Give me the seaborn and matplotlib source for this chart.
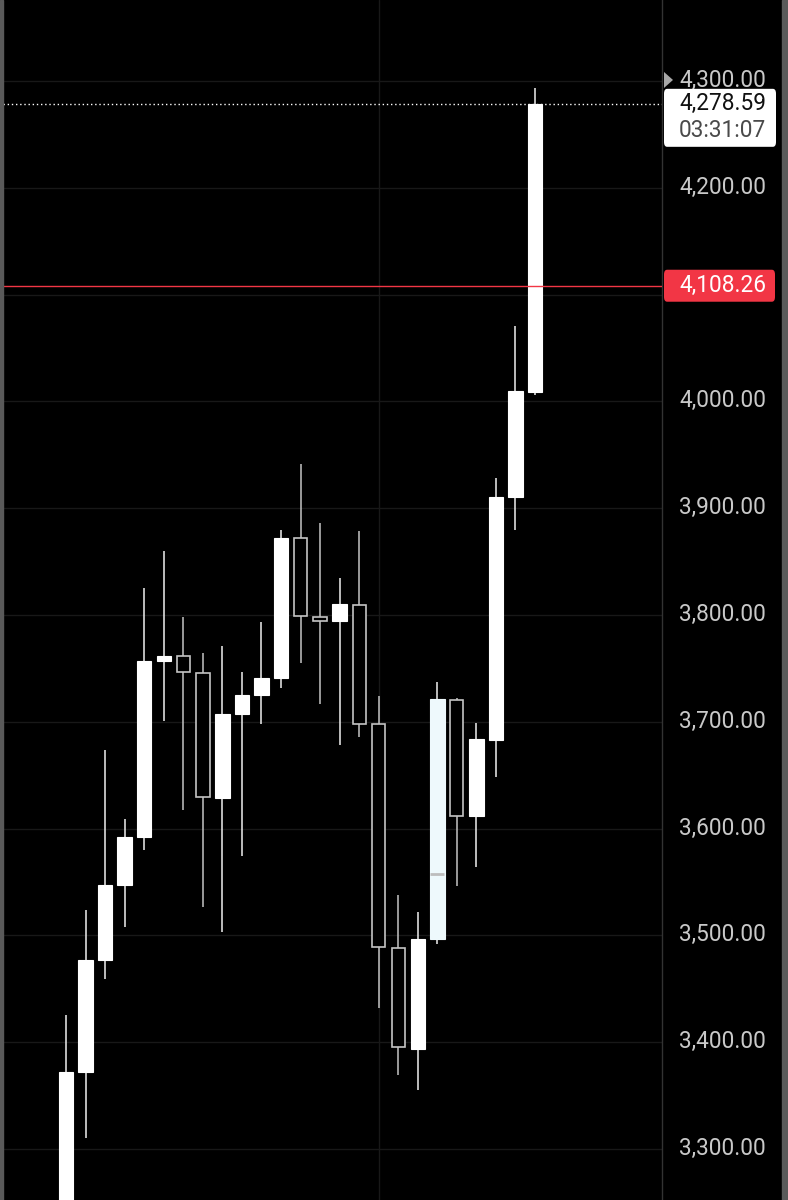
import matplotlib
matplotlib.use("Agg")
import numpy as np
import pandas as pd
import matplotlib.pyplot as plt
import matplotlib.ticker as mticker
import matplotlib.transforms as mtrans
from matplotlib.patches import FancyBboxPatch, Polygon
import seaborn as sns

# daily OHLC
opens = [3220, 3372, 3477, 3547, 3592, 3757, 3762, 3746, 3629, 3707, 3725, 3741, 3872,
         3798, 3794, 3809, 3698, 3488, 3394, 3497, 3720, 3612, 3683, 3910, 4009]
highs = [3425, 3524, 3674, 3609, 3825, 3860, 3798, 3764, 3771, 3747, 3793, 3880, 3941,
         3886, 3835, 3879, 3724, 3538, 3522, 3737, 3722, 3699, 3928, 4071, 4293]
lows = [3200, 3310, 3459, 3508, 3580, 3701, 3617, 3527, 3503, 3574, 3698, 3732, 3755,
        3717, 3678, 3686, 3432, 3369, 3355, 3492, 3546, 3564, 3648, 3880, 4006]
closes = [3372, 3477, 3547, 3592, 3757, 3762, 3747, 3630, 3707, 3725, 3741, 3872, 3799,
          3794, 3810, 3698, 3489, 3395, 3497, 3721, 3612, 3684, 3910, 4010, 4278.59]
price_ticks = [3300, 3400, 3500, 3600, 3700, 3800, 3900, 4000, 4100, 4200, 4300]
hidden_tick = 4100      # label sits under the red tag
last_price = 4278.59
last_label = "4,278.59"
countdown = "03:31:07"
ref_price = 4108.26
session_break = 16      # vertical grid line through this candle
highlight_idx = 19      # candle with the light tint
marker_price = 3557

df = pd.DataFrame({"open": opens, "high": highs, "low": lows, "close": closes})
df["x"] = np.arange(len(df))
df["up"] = df["close"] >= df["open"]
df["bottom"] = df[["open", "close"]].min(axis=1)
df["body"] = (df["close"] - df["open"]).abs().clip(lower=4)

sns.set_theme(style="dark", rc={"axes.facecolor": "black", "figure.facecolor": "black",
                                "axes.grid": False})
plt.rcParams["font.family"] = ["Roboto", "DejaVu Sans"]

W, H = 788, 1200
fig = plt.figure(figsize=(W / 100, H / 100), dpi=100)
ax = fig.add_axes([3 / W, 0, (662 - 3) / W, 1])
ax.set_facecolor("black")

# grid
for p in price_ticks:
    ax.axhline(p, color="#181818", lw=1, zorder=0)
ax.axvline(session_break, color="#181818", lw=1, zorder=0)

# wicks
wick_col = np.where(df["up"], "#f0f0f0", "#c4c4c4")
ax.vlines(df["x"], df["low"], df["high"], colors=wick_col, lw=1.1, zorder=2)

# bodies
up = df[df["up"]]
dn = df[~df["up"]]
face_up = ["#eef9fc" if i == highlight_idx else "white" for i in up["x"]]
ax.bar(up["x"], up["body"], bottom=up["bottom"], width=0.74, color=face_up,
       edgecolor=face_up, lw=0.8, zorder=3)
ax.bar(dn["x"], dn["body"], bottom=dn["bottom"], width=0.68, color="black",
       edgecolor="#c4c4c4", lw=1.2, zorder=3)
ax.hlines(marker_price, highlight_idx - 0.35, highlight_idx + 0.35, colors="#bdbdbd",
          lw=2, zorder=4)

# price lines
ax.axhline(ref_price, color="#f23645", lw=1, zorder=5)
ax.axhline(last_price, color="white", lw=1, ls=(0, (1, 2)), zorder=5)

ax.set_xlim(-3.23, 30.5)
ax.set_ylim(3252.2, 4375.8)
ax.yaxis.tick_right()
ax.set_yticks(price_ticks)
ax.yaxis.set_major_formatter(mticker.FuncFormatter(
    lambda v, _: "" if abs(v - hidden_tick) < 1 else f"{v:,.2f}"))
ax.tick_params(axis="y", length=0, pad=12.5, labelsize=16.3, labelcolor="#c9c9c9")
ax.tick_params(axis="x", bottom=False, labelbottom=False)
shift = mtrans.ScaledTranslation(0, 3 / 100, fig.dpi_scale_trans)
for lab in ax.get_yticklabels():
    lab.set_transform(lab.get_transform() + shift)
for s in ax.spines.values():
    s.set_visible(False)
ax.spines["right"].set_visible(True)
ax.spines["right"].set_color("#333333")
ax.spines["right"].set_linewidth(1)


def fy(p):
    y0, y1 = ax.get_ylim()
    return (p - y0) / (y1 - y0)


# window borders
fig.patches.append(plt.Rectangle((0, 0), 3 / W, 1, transform=fig.transFigure,
                                 color="#5a5a5a", zorder=10))
fig.patches.append(plt.Rectangle((782 / W, 0), 6 / W, 1, transform=fig.transFigure,
                                 color="#5a5a5a", zorder=10))

# last price tag
ylast = fy(last_price)
box = FancyBboxPatch((664 / W, ylast - 43 / H), 112 / W, 58 / H,
                     boxstyle="round,pad=0,rounding_size=0.004", transform=fig.transFigure,
                     fc="white", ec="none", zorder=11)
fig.patches.append(box)
fig.text(679 / W, ylast, last_label, color="#111111", fontsize=16.3, va="center",
         ha="left", zorder=12)
fig.text(679 / W, ylast - 27 / H, countdown, color="#4a4a4a", fontsize=16.3, va="center",
         ha="left", zorder=12)

# reference price tag
yref = fy(ref_price)
rbox = FancyBboxPatch((664 / W, yref - 16 / H), 111 / W, 32 / H,
                      boxstyle="round,pad=0,rounding_size=0.004", transform=fig.transFigure,
                      fc="#f23645", ec="none", zorder=11)
fig.patches.append(rbox)
fig.text(679 / W, yref, f"{ref_price:,.2f}", color="white", fontsize=16.3, va="center",
         ha="left", zorder=12)

# small scroll marker
ytop = fy(4300)
tri = Polygon([(664 / W, ytop + 9 / H), (664 / W, ytop - 7 / H), (673 / W, ytop + 1 / H)],
              closed=True, transform=fig.transFigure, fc="#a8a8a8", ec="none", zorder=11)
fig.patches.append(tri)

fig.savefig("out.png", dpi=100, facecolor="black")
plt.close(fig)
